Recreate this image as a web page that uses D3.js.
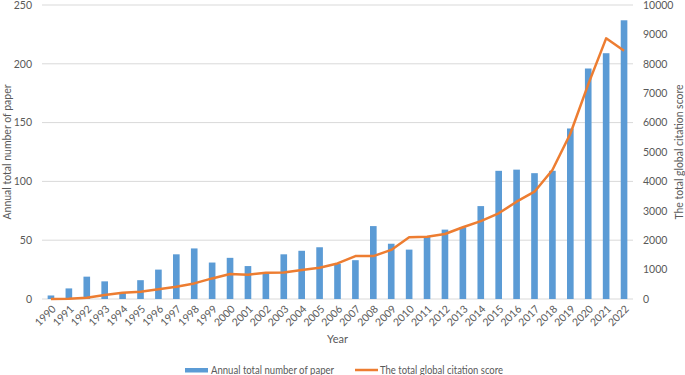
<!DOCTYPE html>
<html>
<head>
<meta charset="utf-8">
<script src="https://cdn.jsdelivr.net/npm/d3@7"></script>
<style>
  body { margin: 0; background: #fff; }
  svg text { font-family: Lato, "Open Sans", sans-serif; fill: #595959; }
</style>
</head>
<body>
<svg id="chart"></svg>
<script>
// years on the x axis
const years = d3.range(1990, 2023).map(String);

// annual number of papers (left axis)
const papers = [3, 9, 19, 15, 5, 16, 25, 38, 43, 31, 35, 28, 22, 38, 41, 44, 30, 33, 62, 47,
  42, 53, 59, 61, 79, 109, 110, 107, 109, 145, 196, 209, 237];

// total global citation score (right axis)
const citations = [0, 10, 45, 135, 215, 250, 330, 420, 530, 700, 850, 827, 895, 905, 985, 1065,
  1210, 1460, 1460, 1670, 2100, 2120, 2210, 2440, 2650, 2915, 3310, 3650, 4390, 5620, 7300, 8866, 8447];

const leftTicks = [0, 50, 100, 150, 200, 250];
const rightTicks = d3.range(0, 10001, 1000);

const seriesNames = ['Annual total number of paper', 'The total global citation score'];

const W = 685, H = 375;
const margin = {top: 5, right: 52, bottom: 76, left: 42};
const width = W - margin.left - margin.right;
const height = H - margin.top - margin.bottom;

const blue = '#5b9bd5', orange = '#ed7d31';

const svg = d3.select('#chart').attr('width', W).attr('height', H);
const chart = svg.append('g').attr('transform', `translate(${margin.left},${margin.top})`);

const x = d3.scaleBand().domain(years).range([0, width]).paddingInner(0.63).paddingOuter(0.315);
const yL = d3.scaleLinear().domain([0, 250]).range([height, 0]);
const yR = d3.scaleLinear().domain([0, 10000]).range([height, 0]);

// gridlines
chart.append('g')
  .selectAll('line')
  .data(leftTicks)
  .join('line')
    .attr('x1', 0).attr('x2', width)
    .attr('y1', d => yL(d)).attr('y2', d => yL(d))
    .attr('stroke', '#d9d9d9').attr('stroke-width', 1);

// left axis
const yAxisL = chart.append('g')
  .call(d3.axisLeft(yL).tickValues(leftTicks).tickSize(0).tickPadding(10));
yAxisL.select('.domain').remove();
yAxisL.selectAll('text').style('font-size', '10.5px');

// right axis
const yAxisR = chart.append('g')
  .attr('transform', `translate(${width},0)`)
  .call(d3.axisRight(yR).tickValues(rightTicks).tickFormat(d3.format('d')).tickSize(0).tickPadding(10));
yAxisR.select('.domain').remove();
yAxisR.selectAll('text').style('font-size', '10.5px');

// bars
chart.append('g')
  .selectAll('rect')
  .data(years)
  .join('rect')
    .attr('x', d => x(d))
    .attr('y', (d, i) => yL(papers[i]))
    .attr('width', x.bandwidth())
    .attr('height', (d, i) => height - yL(papers[i]))
    .attr('fill', blue);

// citation line
const line = d3.line()
  .x((d, i) => x(years[i]) + x.bandwidth() / 2)
  .y(d => yR(d));

chart.append('path')
  .datum(citations)
  .attr('d', line)
  .attr('fill', 'none')
  .attr('stroke', orange)
  .attr('stroke-width', 2.5)
  .attr('stroke-linejoin', 'round');

// x axis
const xAxis = chart.append('g')
  .attr('transform', `translate(0,${height})`)
  .call(d3.axisBottom(x).tickSize(0).tickPadding(0));
xAxis.select('.domain').remove();
xAxis.selectAll('text')
  .style('font-size', '10.5px')
  .attr('text-anchor', 'end')
  .attr('dy', '0.35em')
  .attr('transform', 'translate(3,8) rotate(-45)');

// axis titles (squeezed a bit, the original font is narrower)
chart.append('text')
  .attr('transform', `translate(${-31},${height / 2}) rotate(-90)`)
  .attr('text-anchor', 'middle')
  .attr('textLength', 135)
  .attr('lengthAdjust', 'spacingAndGlyphs')
  .style('font-size', '11.5px')
  .text('Annual total number of paper');

chart.append('text')
  .attr('transform', `translate(${width + 50},${height / 2}) rotate(-90)`)
  .attr('text-anchor', 'middle')
  .attr('textLength', 135)
  .attr('lengthAdjust', 'spacingAndGlyphs')
  .style('font-size', '11.5px')
  .text('The total global citation score');

chart.append('text')
  .attr('x', width / 2)
  .attr('y', height + 44)
  .attr('text-anchor', 'middle')
  .style('font-size', '11px')
  .text('Year');

// legend
const legend = svg.append('g').attr('transform', `translate(185,370)`);
const item1 = legend.append('g');
item1.append('rect').attr('x', 0).attr('y', -2).attr('width', 23).attr('height', 4.5).attr('fill', blue);
item1.append('text').attr('x', 26).attr('dy', '0.35em')
  .attr('textLength', 123).attr('lengthAdjust', 'spacingAndGlyphs')
  .style('font-size', '10.5px').text(seriesNames[0]);

const item2 = legend.append('g').attr('transform', 'translate(170,0)');
item2.append('line').attr('x1', 0).attr('x2', 23).attr('y1', 0).attr('y2', 0)
  .attr('stroke', orange).attr('stroke-width', 2.5);
item2.append('text').attr('x', 25).attr('dy', '0.35em')
  .attr('textLength', 123).attr('lengthAdjust', 'spacingAndGlyphs')
  .style('font-size', '10.5px').text(seriesNames[1]);
</script>
</body>
</html>
